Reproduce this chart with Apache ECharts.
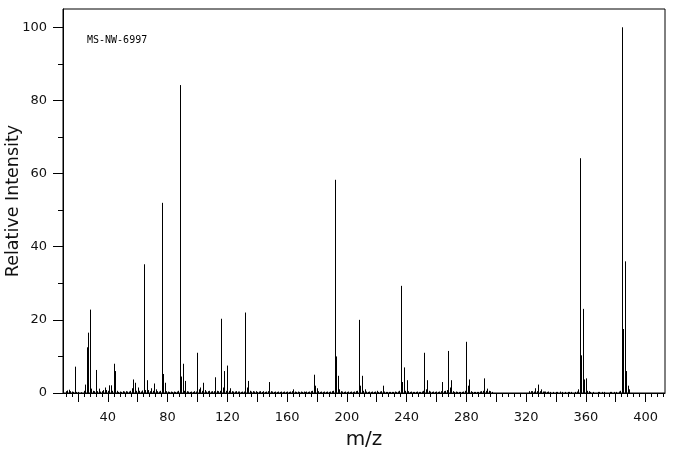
<!DOCTYPE html>
<html><head><meta charset="utf-8">
<script src="https://cdn.jsdelivr.net/npm/echarts@6/dist/echarts.min.js"></script>
<style>html,body{margin:0;padding:0;background:#fff}#c{width:676px;height:455px}</style>
</head><body><div id="c"></div>
<script>
const sampleId = 'MS-NW-6997';
const mz = [
 12,13,14,15,16,17,18,19,20,22,24,25,26,27,28,29,30,31,32,33,34,35,36,37,38,39,40,41,42,43,44,45,46,47,48,49,50,51,52,53,54,55,56,57,58,59,60,
 61,62,63,64,65,66,67,68,69,70,71,72,73,74,75,76,77,78,79,80,81,82,83,84,85,86,87,88,89,90,91,92,93,94,95,96,97,98,99,100,
 101,102,103,104,105,106,107,108,109,110,111,112,113,114,115,116,117,118,119,120,121,122,123,124,125,126,127,128,129,130,131,132,133,134,135,136,137,138,139,140,
 141,142,143,144,145,146,147,148,149,150,151,152,153,154,155,156,157,158,159,160,161,162,163,164,165,166,167,168,169,170,171,172,173,174,175,176,177,178,179,180,
 181,182,183,184,185,186,187,188,189,190,191,192,193,194,195,196,197,198,199,200,201,202,203,204,205,206,207,208,209,210,211,212,213,214,215,216,217,218,219,220,
 221,222,223,224,225,226,227,228,229,230,231,232,233,234,235,236,237,238,239,240,241,242,243,244,245,246,247,248,249,250,251,252,253,254,255,256,257,258,259,260,
 261,262,263,264,265,266,267,268,269,270,271,272,273,274,275,276,277,278,279,280,281,282,283,284,285,286,287,288,289,290,291,292,293,294,295,296,297,
 322,323,324,325,326,327,328,329,330,331,332,333,334,335,336,338,340,341,343,344,346,348,349,350,353,354,355,356,357,358,359,360,361,362,363,365,368,369,371,372,376,377,379,380,382,383,384,385,386,387,388,389
];
const relIntensity = [
 0.5,0.7,0.9,0.5,0.4,0.3,7.2,0.3,0.3,0.2,0.6,2.3,12.5,16.5,22.8,1.2,0.6,0.5,6.3,0.5,1.2,0.4,0.5,0.8,1.5,0.8,0.6,2.1,2.1,0.6,8.0,6.0,0.6,0.3,0.4,0.3,0.5,0.4,0.5,0.4,0.4,0.6,1.3,3.7,2.8,0.6,1.5,
 0.6,0.4,0.7,35.2,0.8,3.5,0.8,0.5,1.3,0.6,2.6,1.0,0.5,0.4,0.6,52.0,5.2,2.8,0.5,0.4,0.3,0.4,0.3,0.4,0.3,0.4,0.6,84.2,4.5,8.0,0.6,3.3,0.5,0.4,0.3,0.4,0.3,0.5,0.4,11.0,
 1.0,1.5,0.6,2.8,0.8,0.4,0.5,0.6,0.4,0.5,0.5,4.3,0.6,0.5,0.6,20.3,1.5,6.0,0.6,7.5,0.6,1.3,0.5,0.4,0.4,0.5,0.4,0.4,0.3,0.4,0.4,22.0,1.5,3.3,0.6,0.4,0.5,0.4,0.5,0.3,
 0.4,0.5,0.3,0.5,0.3,0.4,0.5,3.0,0.5,0.4,0.3,0.4,0.3,0.4,0.3,0.4,0.3,0.4,0.3,0.4,0.3,0.4,0.5,1.0,0.4,0.3,0.4,0.3,0.4,0.3,0.4,0.3,0.4,0.3,0.4,0.5,0.6,5.0,2.0,1.3,
 0.5,0.3,0.4,0.3,0.4,0.3,0.4,0.3,0.4,0.5,0.6,58.3,10.0,4.7,1.0,0.5,0.4,0.3,0.4,0.3,0.4,0.3,0.4,0.3,0.4,0.5,0.6,20.0,2.0,4.7,0.6,1.0,0.4,0.3,0.4,0.3,0.4,0.3,0.4,0.6,
 0.3,0.4,0.5,2.0,0.4,0.3,0.3,0.3,0.3,0.3,0.3,0.4,0.3,0.4,0.6,29.3,3.0,7.0,0.6,3.5,0.5,0.3,0.4,0.3,0.3,0.3,0.4,0.3,0.3,0.4,0.6,11.0,1.0,3.5,0.6,0.4,0.3,0.4,0.3,0.4,
 0.3,0.4,0.5,3.0,0.5,0.6,0.8,11.5,1.5,3.5,0.5,0.3,0.4,0.3,0.3,0.3,0.3,0.4,0.6,14.0,2.0,3.7,0.5,0.3,0.3,0.3,0.3,0.3,0.4,0.5,0.6,4.0,0.6,1.2,0.6,0.5,0.3,
 0.5,0.5,0.5,0.4,1.3,0.5,2.3,0.5,1.0,0.4,0.4,0.4,0.3,0.4,0.3,0.3,0.3,0.3,0.4,0.3,0.3,0.3,0.3,0.3,0.3,0.4,1.0,64.2,10.3,23.0,3.7,4.0,0.6,0.5,0.3,0.3,0.3,0.3,0.3,0.3,0.3,0.3,0.3,0.3,0.4,0.6,100,17.5,36.0,6.0,2.0,1.0
];
const xLabelValues = [40,80,120,160,200,240,280,320,360,400];
const xMajorTickValues = [20,40,60,80,100,120,140,160,180,200,220,240,260,280,300,320,340,360,380,400];
const xMinorTickValues = [12,16,24,28,32,36,44,48,52,56,64,68,72,76,84,88,92,96,104,108,112,116,124,128,132,136,144,148,152,156,164,168,172,176,184,188,192,196,204,208,212,216,224,228,232,236,244,248,252,256,264,268,272,276,284,288,292,296,304,308,312,316,324,328,332,336,344,348,352,356,364,368,372,376,384,388,392,396,404,408,412];
const yLabelValues = [0,20,40,60,80,100];
const yMinorTickValues = [10,30,50,70,90];

const FONT = 'DejaVu Sans';
const TXT = '#111';
const chart = echarts.init(document.getElementById('c'), null, {renderer:'canvas'});
chart.setOption({
  animation:false,
  backgroundColor:'#fff',
  grid:{left:63,right:11,top:9,bottom:62,containLabel:false,outerBoundsMode:'none',show:true,borderColor:'#000',borderWidth:1,backgroundColor:'transparent'},
  graphic:[{type:'text',left:87,top:35,style:{text:sampleId,font:'10px "DejaVu Sans Mono"',fill:'#000'}}],
  xAxis:[{
    type:'value',min:10,max:413,position:'bottom',
    name:'m/z',nameLocation:'middle',nameGap:37,nameMoveOverlap:false,
    nameTextStyle:{fontFamily:FONT,fontSize:20,color:TXT},
    axisLine:{show:true,lineStyle:{color:'#000',width:1}},
    axisTick:{show:true,length:9,inside:false,customValues:xMajorTickValues,lineStyle:{color:'#000'}},
    axisLabel:{show:true,customValues:xLabelValues,margin:18,fontFamily:FONT,fontSize:13,color:TXT},
    splitLine:{show:false}
  },{
    type:'value',min:10,max:413,position:'bottom',
    axisLine:{show:false},
    axisTick:{show:true,length:4,customValues:xMinorTickValues,lineStyle:{color:'#000'}},
    axisLabel:{show:false},
    splitLine:{show:false}
  }],
  yAxis:[{
    type:'value',min:0,max:105,position:'left',
    name:'Relative Intensity',nameLocation:'middle',nameGap:41,nameMoveOverlap:false,
    nameTextStyle:{fontFamily:FONT,fontSize:17.5,color:TXT},
    axisLine:{show:true,lineStyle:{color:'#000',width:1}},
    axisTick:{show:true,length:10,customValues:yLabelValues,lineStyle:{color:'#000'}},
    axisLabel:{show:true,customValues:yLabelValues,margin:16,fontFamily:FONT,fontSize:13,color:TXT},
    splitLine:{show:false}
  },{
    type:'value',min:0,max:105,position:'left',
    axisLine:{show:false},
    axisTick:{show:true,length:5,customValues:yMinorTickValues,lineStyle:{color:'#000'}},
    axisLabel:{show:false},
    splitLine:{show:false}
  }],
  series:[{
    type:'custom',xAxisIndex:0,yAxisIndex:0,
    data:mz.map((m,i)=>[m,relIntensity[i]]),
    renderItem:function(params, api){
      const top = api.coord([api.value(0), api.value(1)]);
      const base = api.coord([api.value(0), 0]);
      const x = Math.round(top[0]) + 0.5;
      return {type:'line', shape:{x1:x,y1:base[1],x2:x,y2:top[1]}, style:{stroke:'#000',lineWidth:1}, silent:true};
    }
  }]
});
</script>
</body></html>
